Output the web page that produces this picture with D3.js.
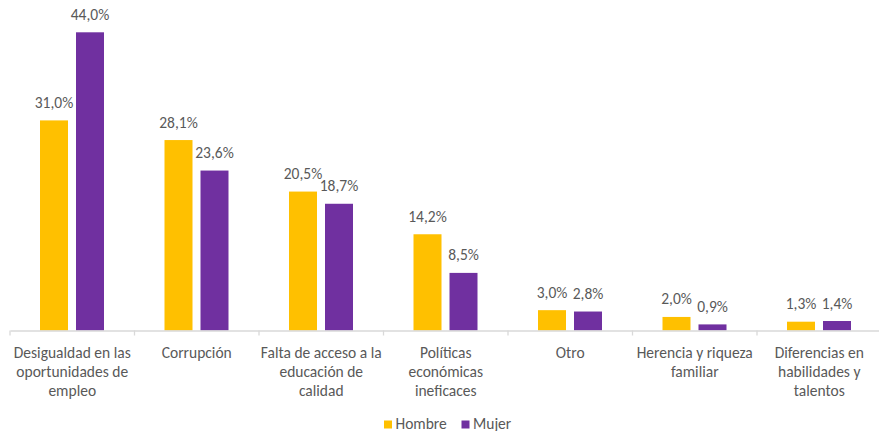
<!DOCTYPE html>
<html><head><meta charset="utf-8">
<script src="https://cdn.jsdelivr.net/npm/d3@7"></script>
<style>
html,body{margin:0;padding:0;background:#fff;}
svg{display:block;font-family:Carlito, Lato, "Open Sans", sans-serif;}
</style></head>
<body><svg id="c" width="879" height="431"></svg>
<script>
const categories = [
  "Desigualdad en las\noportunidades de\nempleo",
  "Corrupción",
  "Falta de acceso a la\neducación de\ncalidad",
  "Políticas\neconómicas\nineficaces",
  "Otro",
  "Herencia y riqueza\nfamiliar",
  "Diferencias en\nhabilidades y\ntalentos"
];
const seriesNames = ["Hombre", "Mujer"];
const hombre = [31.0, 28.1, 20.5, 14.2, 3.0, 2.0, 1.3];
const mujer  = [44.0, 23.6, 18.7, 8.5, 2.8, 0.9, 1.4];
const colors = ["#FFC000", "#7030A0"];

const svg = d3.select("#c");

// calibrate font size so the text width matches the reference's font metrics
const probe = svg.append("text").attr("font-size", "14px").text("Desigualdad en las");
const w = probe.node().getComputedTextLength();
probe.remove();
const fs = (14 * 117 / w).toFixed(2) + "px";

const baseline = 330.5;
const x0 = d3.scaleBand().domain(categories).range([10, 881.5]).paddingInner(0).paddingOuter(0);
const y = d3.scaleLinear().domain([0, 44]).range([baseline, 32.3]);
const x1 = d3.scaleBand().domain(seriesNames).range([30, 94]).paddingInner(8/36).paddingOuter(0);

const fmt = v => d3.format(".1f")(v).replace(".", ",") + "%";
const data = categories.map((c, i) => ({c, vals: [hombre[i], mujer[i]]}));

const g = svg.selectAll("g.grp").data(data).join("g").attr("class","grp")
  .attr("transform", d => `translate(${x0(d.c)},0)`);

const pts = d => d.vals.map((v, j) => ({v, s: seriesNames[j], j}));

g.selectAll("rect").data(pts).join("rect")
  .attr("x", d => x1(d.s))
  .attr("y", d => y(d.v))
  .attr("width", x1.bandwidth())
  .attr("height", d => baseline - y(d.v))
  .attr("fill", d => colors[d.j]);

g.selectAll("text.lbl").data(pts).join("text").attr("class","lbl")
  .attr("x", d => x1(d.s) + x1.bandwidth()/2)
  .attr("y", d => y(d.v) - 12.5)
  .attr("text-anchor","middle")
  .attr("fill","#595959")
  .attr("font-size", fs)
  .text(d => fmt(d.v));

// axis
const axis = svg.append("g").attr("transform", `translate(0,${baseline})`)
  .call(d3.axisBottom(x0).tickSize(0).tickFormat(""));
axis.select(".domain").attr("stroke","#d9d9d9").attr("stroke-width",1.3);
const tickPos = categories.map(c => x0(c)).concat([x0.range()[1]]);
svg.append("g").selectAll("line").data(tickPos).join("line")
  .attr("x1", d => d).attr("x2", d => d)
  .attr("y1", baseline).attr("y2", baseline + 5)
  .attr("stroke","#d9d9d9").attr("stroke-width",1.3);

// category labels
svg.append("g").selectAll("text").data(categories).join("text")
  .attr("x", d => x0(d) + x0.bandwidth()/2)
  .attr("y", 357.5)
  .attr("text-anchor","middle")
  .attr("fill","#595959")
  .attr("font-size", fs)
  .each(function(d){
    const t = d3.select(this);
    d.split("\n").forEach((line, k) => {
      t.append("tspan").attr("x", x0(d) + x0.bandwidth()/2).attr("dy", k === 0 ? 0 : 19).text(line);
    });
  });

// legend
const legX = [384, 461.5];
const leg = svg.append("g").selectAll("g").data(seriesNames).join("g")
  .attr("transform", (d,i) => `translate(${legX[i]},420.5)`);
leg.append("rect").attr("width", 8).attr("height", 8).attr("fill", (d,i) => colors[i]);
leg.append("text").attr("x", 11.5).attr("y", 8).attr("fill","#595959")
  .attr("font-size", fs).text(d => d);
</script></body></html>
